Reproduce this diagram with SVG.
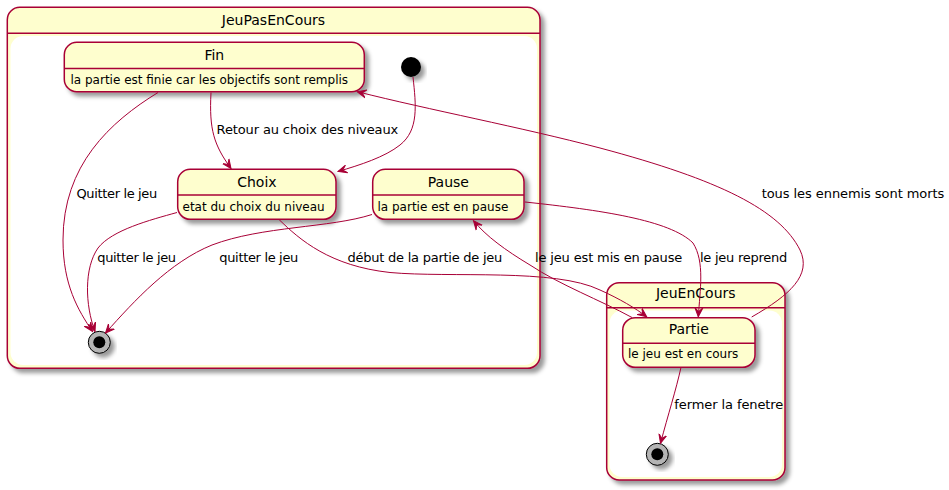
<svg xmlns="http://www.w3.org/2000/svg" width="949" height="490" viewBox="0 0 949 490">
<style>
.st{fill:#FEFECE;stroke:#A80036;stroke-width:1.5}
.in{fill:#FFFFFF;stroke:none}
.sep{stroke:#A80036;stroke-width:1.5;fill:none}
.t14{font-family:"DejaVu Sans",sans-serif;font-size:14px;fill:#000}
.t12{font-family:"DejaVu Sans",sans-serif;font-size:12px;fill:#000}
.t13{font-family:"DejaVu Sans",sans-serif;font-size:13px;fill:#000}
.c{text-anchor:middle}
.e{fill:none;stroke:#A80036;stroke-width:1;marker-end:url(#ah)}
</style>
<defs>
<filter id="sh" x="-20%" y="-20%" width="150%" height="150%">
<feGaussianBlur in="SourceAlpha" stdDeviation="2" result="b"/>
<feColorMatrix in="b" type="matrix" values="0 0 0 0 0 0 0 0 0 0 0 0 0 0 0 0 0 0 0.4 0" result="c"/>
<feOffset in="c" dx="4" dy="4" result="o"/>
<feBlend in="SourceGraphic" in2="o" mode="normal"/>
</filter>
<marker id="ah" viewBox="0 -5 10 10" refX="9" refY="0" markerWidth="10" markerHeight="10" markerUnits="userSpaceOnUse" orient="auto">
<path d="M0,-4 L9,0 L0,4 L4,0 Z" fill="#A80036" stroke="#A80036" stroke-width="1"/>
</marker>
</defs>

<g id="JeuPasEnCours">
<rect class="st" x="7.3" y="7.3" width="532.7" height="361" rx="12.5" ry="12.5" filter="url(#sh)"/>
<rect class="in" x="10.5" y="36" width="526.5" height="329" rx="12.5" ry="12.5"/>
<line class="sep" x1="7.3" y1="33.3" x2="540" y2="33.3"/>
<text class="t14 c" x="273.5" y="25">JeuPasEnCours</text>
</g>

<g id="JeuEnCours">
<rect class="st" x="606.7" y="282.7" width="178.3" height="197.3" rx="12.5" ry="12.5" filter="url(#sh)"/>
<rect class="in" x="609.5" y="310.5" width="172.5" height="166.5" rx="12.5" ry="12.5"/>
<line class="sep" x1="606.7" y1="307.7" x2="785" y2="307.7"/>
<text class="t14 c" x="695.8" y="298.3">JeuEnCours</text>
</g>

<g id="Fin">
<rect class="st" x="64.3" y="42.3" width="300" height="49.4" rx="12.5" ry="12.5" filter="url(#sh)"/>
<line class="sep" x1="64.3" y1="68.5" x2="364.3" y2="68.5"/>
<text class="t14 c" x="214.3" y="59.5">Fin</text>
<text class="t12" x="70.5" y="83.5">la partie est finie car les objectifs sont remplis</text>
</g>

<g id="initial">
<circle cx="411" cy="67" r="10" fill="#000" filter="url(#sh)"/>
</g>

<g id="Choix">
<rect class="st" x="177.7" y="169.3" width="158.3" height="50" rx="12.5" ry="12.5" filter="url(#sh)"/>
<line class="sep" x1="177.7" y1="195" x2="336" y2="195"/>
<text class="t14 c" x="256.9" y="187">Choix</text>
<text class="t12" x="182.5" y="210.7">etat du choix du niveau</text>
</g>

<g id="Pause">
<rect class="st" x="372.7" y="169.3" width="151.3" height="50" rx="12.5" ry="12.5" filter="url(#sh)"/>
<line class="sep" x1="372.7" y1="195" x2="524" y2="195"/>
<text class="t14 c" x="448.4" y="187">Pause</text>
<text class="t12" x="377.5" y="210.7">la partie est en pause</text>
</g>

<g id="final1">
<circle cx="99.3" cy="342.3" r="11" fill="#B4B4B4" stroke="#000" stroke-width="1" filter="url(#sh)"/>
<circle cx="99.3" cy="342.3" r="6" fill="#000"/>
</g>

<g id="Partie">
<rect class="st" x="622.7" y="317.7" width="132.3" height="49.6" rx="12.5" ry="12.5" filter="url(#sh)"/>
<line class="sep" x1="622.7" y1="343.3" x2="755" y2="343.3"/>
<text class="t14 c" x="688.8" y="334.3">Partie</text>
<text class="t12" x="628" y="358.3">le jeu est en cours</text>
</g>

<g id="final2">
<circle cx="657.3" cy="454.3" r="11" fill="#B4B4B4" stroke="#000" stroke-width="1" filter="url(#sh)"/>
<circle cx="657.3" cy="454.3" r="6" fill="#000"/>
</g>

<g id="connectors">
<path class="e" d="M158,92.5 C110,122 63,165 63,240 C63,285 78,310 92.5,331.5"/>
<path class="e" d="M211,92.5 C209,130 214,145 231,168.5"/>
<path class="e" d="M413,77 C416,105 419,130 400,145 C385,157 360,165 338,171.5"/>
<path class="e" d="M177,212.5 C150,220 112,230 98,248 C84,268 85,305 95,331.5"/>
<path class="e" d="M372,214.5 C330,228 262,226 212,245 C170,262 135,300 105.5,333"/>
<path class="e" d="M279,219.5 C300,240 330,266 390,272.5 C450,278 555,268 600,290 C620,299 635,308 646.7,316.7"/>
<path class="e" d="M632,317.5 C600,300 560,285 530,265 C505,250 486,236 473.5,220.7"/>
<path class="e" d="M525,202 C600,210 670,220 693,243 C705,262 700,290 698.3,316.7"/>
<path class="e" d="M751.7,317 C790,295 812,275 800,250 C780,210 720,180 600,148 C520,127 430,110 357.3,91.7"/>
<path class="e" d="M681,367.3 C676,390 668,415 660.5,443.3"/>
<text class="t13" x="76.5" y="198.3" textLength="80.7">Quitter le jeu</text>
<text class="t13" x="216.6" y="134.3" textLength="181.6">Retour au choix des niveaux</text>
<text class="t13" x="97.3" y="261.7" textLength="78.8">quitter le jeu</text>
<text class="t13" x="219.3" y="261.7" textLength="79">quitter le jeu</text>
<text class="t13" x="347.6" y="261.7" textLength="154.7">début de la partie de jeu</text>
<text class="t13" x="535" y="261.7" textLength="147.3">le jeu est mis en pause</text>
<text class="t13" x="700" y="261.7" textLength="87.3">le jeu reprend</text>
<text class="t13" x="761.7" y="198.3" textLength="182.6">tous les ennemis sont morts</text>
<text class="t13" x="674.3" y="409.3" textLength="109">fermer la fenetre</text>
</g>
</svg>
